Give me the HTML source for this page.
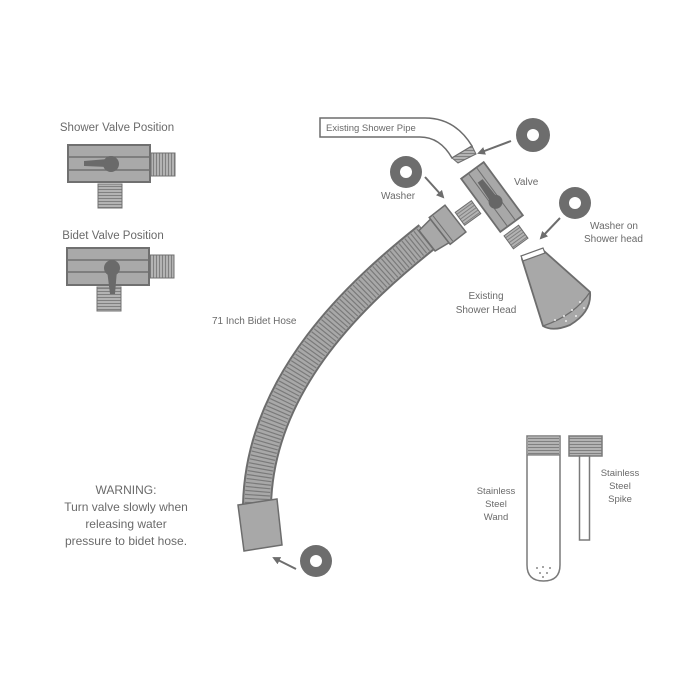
<!DOCTYPE html>
<html><head><meta charset="utf-8"><style>
html,body{margin:0;padding:0;background:#fff;}
svg{display:block;}
text{font-family:"Liberation Sans",sans-serif;fill:#6a6a6a;}
</style></head><body>
<svg width="700" height="700" viewBox="0 0 700 700" xmlns="http://www.w3.org/2000/svg">
<defs>
<pattern id="hs" width="4" height="3" patternUnits="userSpaceOnUse"><rect width="4" height="3" fill="#b3b3b3"/><line x1="0" y1="0.5" x2="4" y2="0.5" stroke="#808080" stroke-width="1"/></pattern>
<pattern id="vs" width="3" height="4" patternUnits="userSpaceOnUse"><rect width="3" height="4" fill="#b3b3b3"/><line x1="0.5" y1="0" x2="0.5" y2="4" stroke="#808080" stroke-width="1"/></pattern>
<marker id="ah" markerWidth="8" markerHeight="8" refX="6" refY="4" orient="auto" markerUnits="userSpaceOnUse"><path d="M0,0 L8,4 L0,8 Z" fill="#6d6d6d"/></marker>
</defs>

<!-- left valve diagrams -->
<text x="117" y="131" font-size="11.5" text-anchor="middle" fill="#666">Shower Valve Position</text>
<rect x="68" y="145" width="82" height="37" fill="#a9a9a9" stroke="#707070" stroke-width="2"/>
<line x1="69" y1="157" x2="149" y2="157" stroke="#707070" stroke-width="1.5"/>
<line x1="69" y1="170" x2="149" y2="170" stroke="#707070" stroke-width="1.5"/>
<rect x="151" y="153" width="24" height="23" fill="url(#vs)" stroke="#707070" stroke-width="1"/>
<rect x="98" y="184" width="24" height="24" fill="url(#hs)" stroke="#707070" stroke-width="1"/>
<path d="M84,161 L108,159 L108,167 L84,166 Z" fill="#6a6a6a"/>
<circle cx="111" cy="164" r="8" fill="#6a6a6a"/>

<text x="113" y="239" font-size="11.5" text-anchor="middle" fill="#666">Bidet Valve Position</text>
<rect x="67" y="248" width="82" height="37" fill="#a9a9a9" stroke="#707070" stroke-width="2"/>
<line x1="68" y1="260" x2="148" y2="260" stroke="#707070" stroke-width="1.5"/>
<line x1="68" y1="272" x2="148" y2="272" stroke="#707070" stroke-width="1.5"/>
<rect x="150" y="255" width="24" height="23" fill="url(#vs)" stroke="#707070" stroke-width="1"/>
<rect x="97" y="287" width="24" height="24" fill="url(#hs)" stroke="#707070" stroke-width="1"/>
<circle cx="112" cy="268" r="8" fill="#6a6a6a"/>
<path d="M107,270 L117,270 L115,294 L110,294 Z" fill="#6a6a6a"/>

<!-- warning -->
<text x="126" y="494" font-size="12" text-anchor="middle" fill="#6a6a6a">WARNING:</text>
<text x="126" y="511" font-size="12" text-anchor="middle" fill="#6a6a6a">Turn valve slowly when</text>
<text x="126" y="528" font-size="12" text-anchor="middle" fill="#6a6a6a">releasing water</text>
<text x="126" y="545" font-size="12" text-anchor="middle" fill="#6a6a6a">pressure to bidet hose.</text>

<!-- hose -->
<path d="M428,236 C360,290 260,380 257,505" fill="none" stroke="#6d6d6d" stroke-width="30"/>
<path d="M428,236 C360,290 260,380 257,505" fill="none" stroke="#a8a8a8" stroke-width="26"/>
<path d="M428,236 C360,290 260,380 257,505" fill="none" stroke="#7a7a7a" stroke-width="25" stroke-dasharray="1.2 2.6"/>
<g transform="translate(446,226) rotate(-38)">
<path d="M-24,-13 L-8,-15 L-8,15 L-24,13 Z" fill="#a8a8a8" stroke="#6d6d6d" stroke-width="1.5"/>
<rect x="-8" y="-17" width="20" height="34" fill="#a8a8a8" stroke="#6d6d6d" stroke-width="1.5"/>
<line x1="-4" y1="-16" x2="-4" y2="16" stroke="#6d6d6d" stroke-width="1"/>
</g>
<path d="M238,505 L277,499 L282,545 L244,551 Z" fill="#a8a8a8" stroke="#6d6d6d" stroke-width="1.5"/>
<text x="212" y="324" font-size="10" fill="#6a6a6a">71 Inch Bidet Hose</text>

<!-- shower pipe -->
<path d="M320,118 L425,118 Q455,118 472,146 L452,158 Q440,137 420,137 L320,137 Z" fill="#fff" stroke="#6d6d6d" stroke-width="1.5"/>
<path d="M452,158 L472,146 L476,154 L458,163 Z" fill="url(#hs)" stroke="#6d6d6d" stroke-width="1"/>
<text x="326" y="131" font-size="9.5" fill="#6a6a6a">Existing Shower Pipe</text>

<!-- valve -->
<g transform="translate(468,213) rotate(-36)"><rect x="-10" y="-8" width="20" height="16" fill="url(#hs)" stroke="#6d6d6d" stroke-width="1"/></g>
<g transform="translate(516,237) rotate(-36)"><rect x="-9" y="-8" width="18" height="16" fill="url(#hs)" stroke="#6d6d6d" stroke-width="1"/></g>
<g transform="translate(492,197) rotate(53.6)">
<rect x="-33" y="-14" width="66" height="28" fill="#a8a8a8" stroke="#6d6d6d" stroke-width="1.8"/>
<line x1="-32" y1="-5" x2="32" y2="-5" stroke="#6d6d6d" stroke-width="1"/>
<line x1="-32" y1="5" x2="32" y2="5" stroke="#6d6d6d" stroke-width="1"/>
<path d="M-20,-3 L2,-4 L2,4 L-20,3 Z" fill="#666"/>
<circle cx="6" cy="0" r="7" fill="#666"/>
</g>
<text x="514" y="185" font-size="10" fill="#6a6a6a">Valve</text>

<!-- shower head -->
<path d="M522,259 L544,251 L590,292 Q592,312 570,325 Q553,332 543,326 Z" fill="#a8a8a8" stroke="#6d6d6d" stroke-width="1.8"/>
<path d="M521,256 L543,248 L545,253 L523,261 Z" fill="#fff" stroke="#6d6d6d" stroke-width="1.2"/>
<path d="M590,292 Q575,315 543,326" fill="none" stroke="#6d6d6d" stroke-width="1.2"/>
<g fill="#eee"><circle cx="580" cy="302" r="1"/><circle cx="572" cy="310" r="1"/><circle cx="564" cy="316" r="1"/><circle cx="555" cy="320" r="1"/><circle cx="584" cy="308" r="1"/><circle cx="576" cy="316" r="1"/><circle cx="566" cy="321" r="1"/></g>
<text x="486" y="299" font-size="10" text-anchor="middle" fill="#6a6a6a">Existing</text>
<text x="486" y="313" font-size="10" text-anchor="middle" fill="#6a6a6a">Shower Head</text>

<!-- washers -->
<g fill="#6d6d6d">
<circle cx="533" cy="135" r="17"/><circle cx="406" cy="172" r="16"/><circle cx="575" cy="203" r="16"/><circle cx="316" cy="561" r="16"/>
</g>
<g fill="#fff">
<circle cx="533" cy="135" r="6"/><circle cx="406" cy="172" r="6"/><circle cx="575" cy="203" r="6"/><circle cx="316" cy="561" r="6"/>
</g>
<text x="381" y="199" font-size="10" fill="#6a6a6a">Washer</text>
<text x="590" y="229" font-size="10" fill="#6a6a6a">Washer on</text>
<text x="584" y="242" font-size="10" fill="#6a6a6a">Shower head</text>

<!-- arrows -->
<g stroke="#6d6d6d" stroke-width="2" fill="none" marker-end="url(#ah)">
<line x1="511" y1="141" x2="479" y2="153"/>
<line x1="425" y1="177" x2="443" y2="197"/>
<line x1="560" y1="218" x2="541" y2="238"/>
<line x1="296" y1="569" x2="274" y2="558"/>
</g>

<!-- wand -->
<path d="M527,436 L560,436 L560,565 Q560,581 543.5,581 Q527,581 527,565 Z" fill="#fff" stroke="#7a7a7a" stroke-width="1.5"/>
<rect x="528" y="437" width="31" height="18" fill="url(#hs)"/>
<line x1="527" y1="455" x2="560" y2="455" stroke="#7a7a7a" stroke-width="1.2"/>
<g fill="#888"><circle cx="537" cy="568" r="1"/><circle cx="543" cy="567" r="1"/><circle cx="550" cy="568" r="1"/><circle cx="540" cy="573" r="1"/><circle cx="547" cy="573" r="1"/><circle cx="543" cy="577" r="1"/></g>
<text x="496" y="494" font-size="9.5" text-anchor="middle" fill="#6a6a6a">Stainless</text>
<text x="496" y="507" font-size="9.5" text-anchor="middle" fill="#6a6a6a">Steel</text>
<text x="496" y="520" font-size="9.5" text-anchor="middle" fill="#6a6a6a">Wand</text>

<!-- spike -->
<rect x="569" y="436" width="33" height="20" fill="url(#hs)" stroke="#7a7a7a" stroke-width="1.5"/>
<rect x="579.5" y="456" width="10" height="84" fill="#fff" stroke="#7a7a7a" stroke-width="1.5"/>
<text x="620" y="476" font-size="9.5" text-anchor="middle" fill="#6a6a6a">Stainless</text>
<text x="620" y="489" font-size="9.5" text-anchor="middle" fill="#6a6a6a">Steel</text>
<text x="620" y="502" font-size="9.5" text-anchor="middle" fill="#6a6a6a">Spike</text>
</svg>
</body></html>
